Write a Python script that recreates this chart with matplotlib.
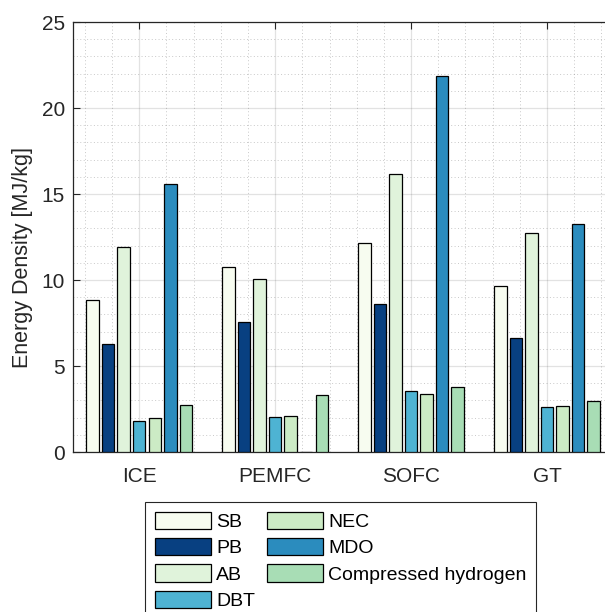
import numpy as np
import matplotlib.pyplot as plt

plt.rcParams['font.family'] = ['Liberation Sans', 'DejaVu Sans']

#Input data
groups = ['ICE', 'PEMFC', 'SOFC', 'GT']
series = ['SB', 'PB', 'AB', 'DBT', 'NEC', 'MDO', 'Compressed hydrogen']

SB = [8.86, 10.76, 12.15, 9.63]
PB = [6.30, 7.54, 8.62, 6.65]
AB = [11.90, 10.04, 16.14, 12.75]
DBT = [1.78, 2.03, 3.55, 2.62]
NEC = [1.98, 2.07, 3.37, 2.66]
MDO = [15.60, 0.0, 21.84, 13.26]
H2 = [2.71, 3.33, 3.76, 2.95]

values = [SB, PB, AB, DBT, NEC, MDO, H2]

#GnBu colours
colors = ['#f7fcf0', '#084081', '#e0f3db', '#4eb3d3', '#ccebc5', '#2b8cbe', '#a8ddb5']

axcol = '#262626'

fig = plt.figure(figsize=(6.05, 6.12), dpi=100)
ax = fig.add_axes([73.3/605, 1-452/612, (615-73.3)/605, 430/612])

x = np.arange(1, len(groups)+1)
n = len(series)
gw = 0.8
pitch = gw/n
for i in range(n):
    ax.bar(x + (i - (n-1)/2)*pitch, values[i], pitch*0.8, color=colors[i],
           edgecolor='black', linewidth=0.9, label=series[i], zorder=3)

ax.set_xlim(0.515, 4.5)
ax.set_ylim(0, 25)
ax.set_xticks(x)
ax.set_xticklabels(groups)
ax.set_yticks(np.arange(0, 26, 5))
ax.set_xticks(np.arange(0.6, 4.5, 0.2), minor=True)
ax.set_yticks(np.arange(0, 26, 1), minor=True)

#grid lines behind the bars
ax.grid(True, which='major', color=axcol, alpha=0.13, linewidth=0.9, zorder=0)
ax.grid(True, which='minor', color=axcol, alpha=0.25, linestyle=(0, (1, 2.5)), linewidth=0.7, zorder=0)
ax.set_axisbelow(True)

ax.tick_params(which='both', direction='in', top=True, right=True, colors=axcol, labelsize=15)
ax.tick_params(which='major', length=5, width=0.8)
ax.tick_params(which='minor', length=0)
ax.tick_params(axis='x', pad=11)
ax.tick_params(axis='y', pad=6)
for s in ax.spines.values():
    s.set_color(axcol)
    s.set_linewidth(0.9)

ax.set_ylabel('Energy Density [MJ/kg]', fontsize=15.5, color=axcol)
ax.yaxis.set_label_coords(-0.075, 0.453)

leg = fig.legend(loc='upper left', bbox_to_anchor=(145/605, 1-502/612), borderaxespad=0,
                 ncol=2, fontsize=14, handlelength=2.9, handleheight=1.0, handletextpad=0.25,
                 columnspacing=0.6, labelspacing=0.36, borderpad=0.5,
                 fancybox=False, edgecolor=axcol, framealpha=1)
leg.get_frame().set_linewidth(0.8)

plt.savefig('out.png', dpi=100)
